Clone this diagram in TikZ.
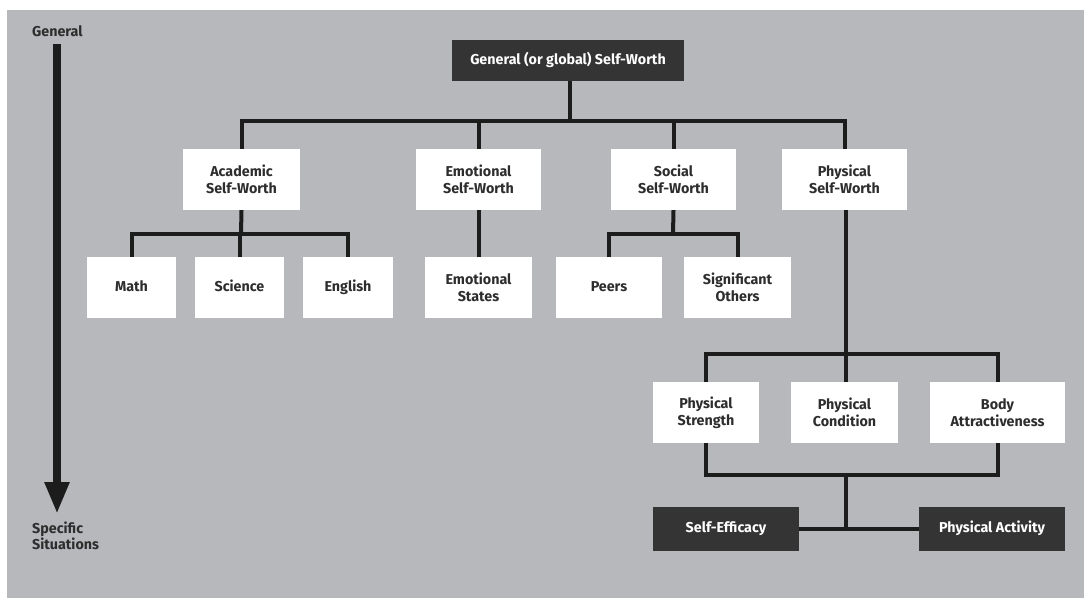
\documentclass[tikz,border=0pt]{standalone}
\usepackage{fontspec}
\setmainfont{Fira Sans}
\usetikzlibrary{arrows.meta}
\definecolor{bggray}{RGB}{183,184,188}
\definecolor{darkbox}{RGB}{52,52,52}
\definecolor{linecol}{RGB}{28,28,28}
\definecolor{txtcol}{RGB}{45,45,45}
\tikzset{
  wbox/.style={fill=white, draw=none, inner sep=0pt, align=center, text=txtcol,
    font=\fontsize{14.3}{17}\selectfont\bfseries},
  dbox/.style={fill=darkbox, draw=none, inner sep=0pt, align=center, text=white,
    font=\fontsize{14.3}{17}\selectfont\bfseries},
  oneline/.style={text height=10.4pt, text depth=3pt},
  conn/.style={draw=linecol, line width=4pt},
  lbl/.style={inner sep=0pt, align=left, anchor=north west, text=txtcol,
    font=\fontsize{14.3}{15.5}\selectfont\bfseries}
}
\begin{document}
\begin{tikzpicture}[x=1pt,y=-1pt]
\useasboundingbox (0,0) rectangle (1084,598);
\fill[bggray] (7,10) rectangle (1084,598);

% nodes
\node[dbox, oneline, minimum width=232, minimum height=41] (top) at (568,60.5) {General (or global) Self-Worth};

\node[wbox, minimum width=117, minimum height=61] (acad) at (241.5,179.5) {Academic\\Self-Worth};
\node[wbox, minimum width=125, minimum height=61] (emo) at (478.5,179.5) {Emotional\\Self-Worth};
\node[wbox, minimum width=125, minimum height=61] (soc) at (673.5,179.5) {Social\\Self-Worth};
\node[wbox, minimum width=125, minimum height=61] (phys) at (844.5,179.5) {Physical\\Self-Worth};

\node[wbox, oneline, minimum width=89, minimum height=61] (math) at (131.5,287.5) {Math};
\node[wbox, oneline, minimum width=89, minimum height=61] (sci) at (239.5,287.5) {Science};
\node[wbox, oneline, minimum width=90, minimum height=61] (eng) at (348,287.5) {English};
\node[wbox, minimum width=107, minimum height=61] (emst) at (478.5,287.5) {Emotional\\States};
\node[wbox, oneline, minimum width=106, minimum height=61] (peers) at (609,287.5) {Peers};
\node[wbox, minimum width=107, minimum height=61] (sig) at (737.5,287.5) {Significant\\Others};

\node[wbox, minimum width=106, minimum height=61] (pstr) at (706,412.5) {Physical\\Strength};
\node[wbox, minimum width=107, minimum height=61] (pcon) at (844.5,412.5) {Physical\\Condition};
\node[wbox, minimum width=135, minimum height=61] (body) at (997.5,412.5) {Body\\Attractiveness};

\node[dbox, oneline, minimum width=146, minimum height=44] (seff) at (726,529) {Self-Efficacy};
\node[dbox, oneline, minimum width=146, minimum height=44] (pact) at (992,529) {Physical Activity};

% junction coordinates
\coordinate (j1) at (570,121);
\coordinate (j2) at (241,234);
\coordinate (j3) at (673,234);
\coordinate (j4) at (846,354);
\coordinate (j5) at (846,475);
\coordinate (j6) at (846,529);

% connectors
\draw[conn] (top.south -| j1) -- (j1);
\draw[conn] (acad.north) |- (j1) -| (phys.north);
\draw[conn] (emo.north) -- (emo.north |- j1);
\draw[conn] (soc.north) -- (soc.north |- j1);

\draw[conn] (acad.south) -- (j2);
\draw[conn] (math.north) |- (j2) -| (eng.north);
\draw[conn] (sci.north) -- (sci.north |- j2);

\draw[conn] (emo.south) -- (emst.north);

\draw[conn] (soc.south) -- (j3);
\draw[conn] (peers.north) |- (j3) -| (sig.north);

\draw[conn] (phys.south -| j4) -- (j4);
\draw[conn] (pstr.north) |- (j4) -| (body.north);
\draw[conn] (pcon.north -| j4) -- (j4);

\draw[conn] (pstr.south) |- (j5) -| (body.south);
\draw[conn] (j5) -- (j6);
\draw[conn] (seff.east) -- (pact.west);

% general-to-specific arrow
\node[lbl] (gen) at (32,25) {General};
\node[lbl] (spec) at (32,522) {Specific\\Situations};
\coordinate (atop) at (57,44);
\coordinate (atip) at (57,514);
\draw[draw=linecol, line width=8.5pt, -{Triangle[width=23pt,length=32pt]}] (atop) -- (atip);
\end{tikzpicture}
\end{document}
